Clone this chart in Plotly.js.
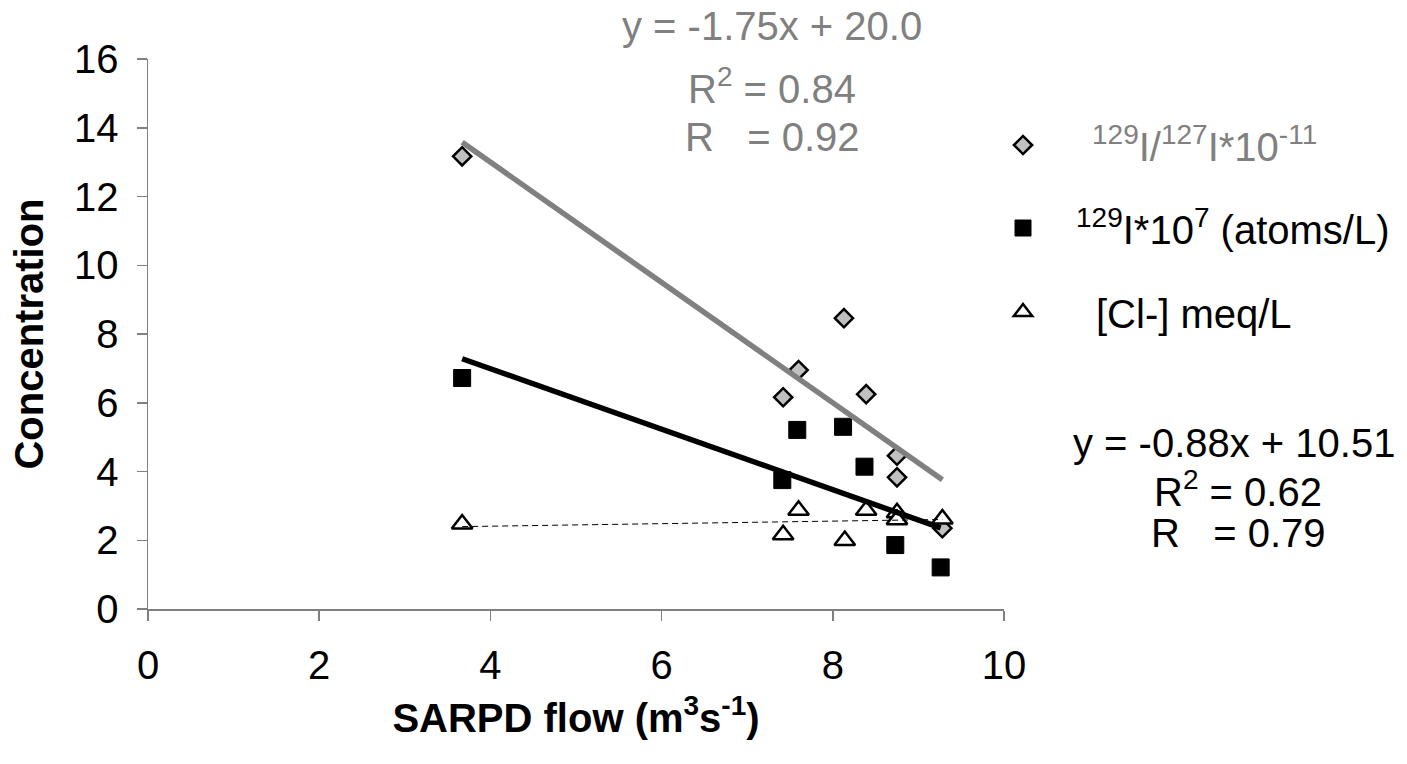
<!DOCTYPE html>
<html>
<head>
<meta charset="utf-8">
<script src="https://cdn.plot.ly/plotly-3.0.1.min.js"></script>
<style>html,body{margin:0;padding:0;background:#fff;}#chart{width:1407px;height:764px;}</style>
</head>
<body>
<div id="chart"></div>
<script>
// ---- data ----
var ratioX = [3.67, 7.42, 7.60, 8.13, 8.39, 8.75, 8.75, 9.28];
var ratioY = [13.17, 6.16, 6.95, 8.46, 6.25, 4.46, 3.83, 2.35];

var iodineX = [3.67, 7.41, 7.585, 8.12, 8.37, 8.73, 9.26];
var iodineY = [6.72, 3.75, 5.21, 5.30, 4.14, 1.86, 1.21];

var chlorideX = [3.67, 7.42, 7.60, 8.14, 8.39, 8.75, 8.75, 9.28];
var chlorideY = [2.47, 2.16, 2.87, 1.99, 2.87, 2.80, 2.60, 2.62];

// regression coefficients printed on the chart
var ratioSlope = -1.75, ratioIntercept = 20.0;
var iodineSlope = -0.88, iodineIntercept = 10.51;

var xTicks = [0, 2, 4, 6, 8, 10];
var yTicks = [0, 2, 4, 6, 8, 10, 12, 14, 16];

// ---- helpers ----
function lineFrom(xs, m, b) {
  var lo = Math.min.apply(null, xs), hi = Math.max.apply(null, xs);
  return {x: [lo, hi], y: [m * lo + b, m * hi + b]};
}
function leastSquares(xs, ys) {
  var n = xs.length, mx = 0, my = 0, sxy = 0, sxx = 0;
  for (var i = 0; i < n; i++) { mx += xs[i]; my += ys[i]; }
  mx /= n; my /= n;
  for (var j = 0; j < n; j++) { sxy += (xs[j]-mx)*(ys[j]-my); sxx += (xs[j]-mx)*(xs[j]-mx); }
  var m = sxy / sxx; return {m: m, b: my - m * mx};
}

var FONT = 'Liberation Sans, Arial, Helvetica, sans-serif';
var FS = 40;
var GREY = '#808080';

var ratioLine = lineFrom(ratioX, ratioSlope, ratioIntercept);
var iodineLine = lineFrom(iodineX, iodineSlope, iodineIntercept);
var clFit = leastSquares(chlorideX, chlorideY);
var clLine = lineFrom(chlorideX, clFit.m, clFit.b);

var traces = [
  {x: ratioX, y: ratioY, type: 'scatter', mode: 'markers', name: '<sup>129</sup>I/<sup>127</sup>I*10<sup>-11</sup>',
   legend: 'legend',
   marker: {symbol: 'diamond', size: 14, color: '#c0c0c0', line: {color: '#000', width: 2.5}}},
  {x: iodineX, y: iodineY, type: 'scatter', mode: 'markers', name: '<sup>129</sup>I*10<sup>7</sup> (atoms/L)',
   legend: 'legend2',
   marker: {symbol: 'square', size: 17, color: '#000', line: {color: '#000', width: 1}}},
  {x: chlorideX, y: chlorideY, type: 'scatter', mode: 'markers', name: '[Cl-] meq/L',
   legend: 'legend3',
   marker: {symbol: 'triangle-up', size: 18, color: '#fff', line: {color: '#000', width: 2.5}}},
  {x: clLine.x, y: clLine.y, type: 'scatter', mode: 'lines', showlegend: false, hoverinfo: 'skip',
   line: {color: '#000', width: 1, dash: '6px,4px'}},
  {x: ratioLine.x, y: ratioLine.y, type: 'scatter', mode: 'lines', showlegend: false, hoverinfo: 'skip',
   line: {color: GREY, width: 5.5}},
  {x: iodineLine.x, y: iodineLine.y, type: 'scatter', mode: 'lines', showlegend: false, hoverinfo: 'skip',
   line: {color: '#000', width: 5.5}}
];

function px2x(px) { return (px - 148) / 856; }
function py2y(py) { return (609 - py) / 550; }

function legendAt(pxLeft, pyMid, color, iw) {
  return {x: px2x(pxLeft), y: py2y(pyMid), xanchor: 'left', yanchor: 'middle',
          bgcolor: 'rgba(0,0,0,0)', borderwidth: 0, itemwidth: iw,
          font: {family: FONT, size: FS, color: color}};
}

function ann(text, px, py, color) {
  return {xref: 'paper', yref: 'paper', x: px2x(px), y: py2y(py), xanchor: 'center', yanchor: 'middle',
          text: text, showarrow: false, borderpad: 0, font: {family: FONT, size: FS, color: color}};
}

var layout = {
  width: 1407, height: 764,
  margin: {l: 148, r: 403, t: 59, b: 155},
  paper_bgcolor: '#fff', plot_bgcolor: '#fff',
  font: {family: FONT, size: FS, color: '#000'},
  xaxis: {range: [0, 10], tickvals: xTicks, ticktext: xTicks.map(String), showgrid: false, zeroline: false,
          showline: true, linecolor: GREY, linewidth: 1.5, ticks: 'outside', ticklen: 10, tickcolor: GREY, tickwidth: 1.5,
          ticklabelstandoff: 10,
          tickfont: {family: FONT, size: FS, color: '#000'},
          title: {text: '<b>SARPD flow (m<sup>3</sup>s<sup>-1</sup>)</b>', font: {family: FONT, size: FS, color: '#000'}, standoff: 18}},
  yaxis: {range: [0, 16], tickvals: yTicks, ticktext: yTicks.map(String), showgrid: false, zeroline: false,
          showline: true, linecolor: GREY, linewidth: 1.5, ticks: 'outside', ticklen: 10, tickcolor: GREY, tickwidth: 1.5,
          ticklabelstandoff: 10,
          tickfont: {family: FONT, size: FS, color: '#000'},
          title: {text: '<b>Concentration</b>', font: {family: FONT, size: FS, color: '#000'}, standoff: 18}},
  showlegend: true,
  legend: legendAt(954, 145, GREY, 128),
  legend2: legendAt(970, 228, '#000', 96),
  legend3: legendAt(950, 312, '#000', 136),
  annotations: [
    ann('y = -1.75x + 20.0', 772, 26, GREY),
    ann('R<sup>2</sup> = 0.84', 772, 86, GREY),
    ann('R\u00A0\u00A0 = 0.92', 772, 137, GREY),
    ann('y = -0.88x + 10.51', 1234, 443, '#000'),
    ann('R<sup>2</sup> = 0.62', 1238, 489, '#000'),
    ann('R\u00A0\u00A0 = 0.79', 1238, 533, '#000')
  ]
};

Plotly.newPlot('chart', traces, layout, {displayModeBar: false, staticPlot: true});
</script>
</body>
</html>
